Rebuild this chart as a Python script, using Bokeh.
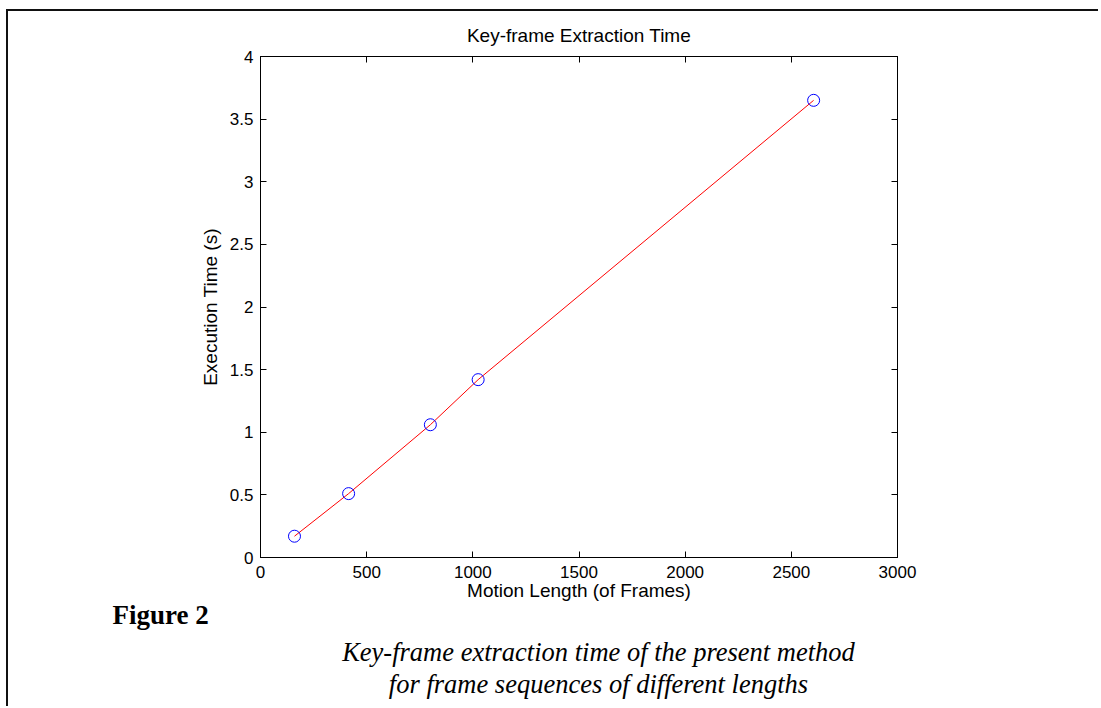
from bokeh.plotting import figure
from bokeh.layouts import column
from bokeh.models import (Range1d, LinearAxis, FixedTicker, NumeralTickFormatter, Title)
from bokeh.core.properties import value
from bokeh.embed import file_html
from bokeh.resources import INLINE

# ---- data ----
motion_frames = [160, 415, 800, 1025, 2605]
exec_time_s = [0.17, 0.51, 1.06, 1.42, 3.65]
x_ticks = [0, 500, 1000, 1500, 2000, 2500, 3000]
y_ticks = [0, 0.5, 1, 1.5, 2, 2.5, 3, 3.5, 4]
title_text = "Key-frame Extraction Time"
x_label = "Motion Length (of Frames)"
y_label = "Execution Time (s)"
fig_label = "Figure 2"
caption_lines = ["Key-frame extraction time of the present method",
                 "for frame sequences of different lengths"]

SANS = "Liberation Sans"
SERIF = "Liberation Serif"
TICK_FS = "17px"
LABEL_FS = "19px"
W = 1090

p = figure(width=W, height=594, output_backend="svg", toolbar_location=None,
           x_range=Range1d(0, 3000), y_range=Range1d(0, 4),
           min_border_left=252, min_border_right=201,
           min_border_top=45, min_border_bottom=48,
           x_axis_location=None, y_axis_location=None)
p.frame_align = False
p.grid.visible = False
p.outline_line_color = "black"
p.outline_line_width = 1
p.border_fill_color = "white"


def make_axis(ticks, labels=True, fmt=None):
    ax = LinearAxis(ticker=FixedTicker(ticks=ticks))
    ax.major_tick_in = 6
    ax.major_tick_out = 0
    ax.minor_tick_line_color = None
    ax.axis_line_color = "black"
    ax.axis_line_width = 1
    ax.major_tick_line_color = "black"
    ax.major_label_text_font = SANS
    ax.major_label_text_color = "black"
    ax.axis_label_text_font = SANS
    ax.axis_label_text_font_style = "normal"
    ax.axis_label_text_font_size = LABEL_FS
    ax.axis_label_text_color = "black"
    if fmt is not None:
        ax.formatter = fmt
    if labels:
        ax.major_label_text_font_size = TICK_FS
    else:
        ax.major_label_text_alpha = 0
        ax.major_label_text_font_size = "1px"
        ax.major_label_standoff = 0
    return ax


xb = make_axis(x_ticks, True, NumeralTickFormatter(format="0"))
xb.axis_label = x_label
xb.major_label_standoff = 8
xb.axis_label_standoff = -1
yl = make_axis(y_ticks, True, NumeralTickFormatter(format="0.[0]"))
yl.axis_label = y_label
yl.major_label_standoff = 7
yl.axis_label_standoff = 6
xt = make_axis(x_ticks, False)
yr = make_axis(y_ticks, False)
p.add_layout(xb, "below")
p.add_layout(yl, "left")
p.add_layout(xt, "above")
p.add_layout(yr, "right")

p.title = Title(text=title_text, text_font=SANS, text_font_size=LABEL_FS,
                text_font_style="normal", align="center", standoff=22,
                text_color="black")

p.line(motion_frames, exec_time_s, line_color="red", line_width=1)
p.scatter(motion_frames, exec_time_s, marker="circle", size=12,
          fill_color=None, line_color="blue", line_width=1)

# ---- caption area below the chart (pixel coordinates, y down) ----
OVERLAP = 12
CAP_H = 101 + OVERLAP
cap = figure(width=W, height=CAP_H, output_backend="svg", toolbar_location=None,
             title=None,
             x_range=Range1d(0, W), y_range=Range1d(CAP_H, 0),
             min_border=0, x_axis_location=None, y_axis_location=None,
             margin=(-OVERLAP, 0, 0, 0))
cap.frame_align = False
cap.grid.visible = False
cap.outline_line_color = None
cap.border_fill_color = None
cap.background_fill_color = None

cap.text(x=[104], y=[9 + OVERLAP], text=[fig_label], text_font=value(SERIF),
         text_font_style="bold", text_font_size="27px", text_align="left",
         text_baseline="middle", text_color="black")
cap.text(x=[590, 590], y=[46 + OVERLAP, 78 + OVERLAP], text=caption_lines,
         text_font=value(SERIF),
         text_font_style="italic", text_font_size="26.5px", text_align="center",
         text_baseline="middle", text_color="black")

layout = column(p, cap, spacing=0, margin=(9, 0, 0, 6),
                styles={"border-top": "2px solid #111111",
                        "border-left": "2px solid #111111"})

open("out.html", "w").write(file_html(layout, INLINE))
